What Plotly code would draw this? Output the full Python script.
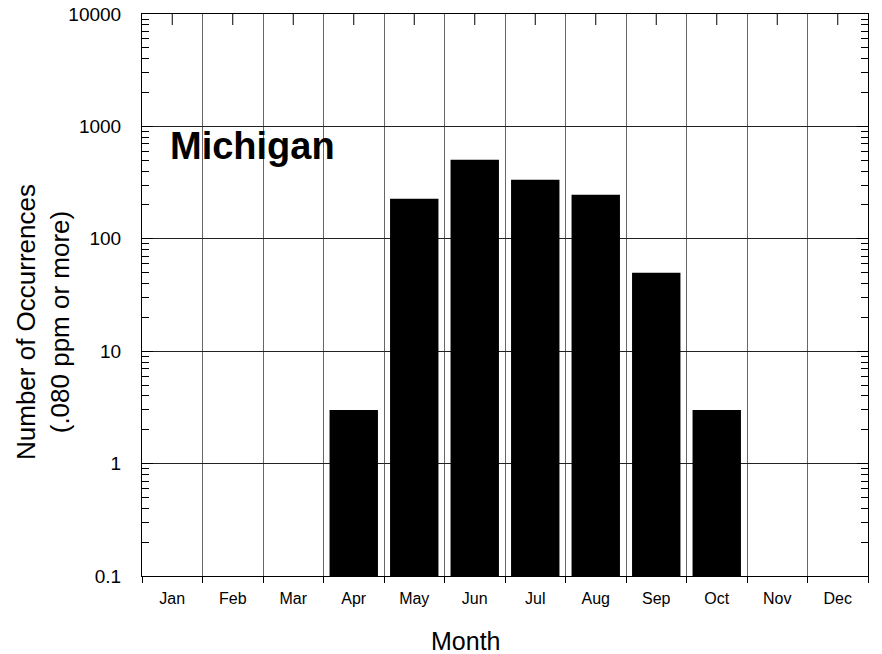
import plotly.graph_objects as go

months = ["Jan", "Feb", "Mar", "Apr", "May", "Jun", "Jul", "Aug", "Sep", "Oct", "Nov", "Dec"]
occurrences = [None, None, None, 3, 227, 505, 335, 246, 50, 3, None, None]
y_tick_vals = [0.1, 1, 10, 100, 1000, 10000]
y_tick_text = ["0.1", "1", "10", "100", "1000", "10000"]
state_label = "Michigan"
x_title = "Month"
y_title = "Number of Occurrences<br>(.080 ppm or more)"

FONT = "Liberation Sans, Arial, sans-serif"

W, H = 882, 654
ML, MR, MT, MB = 142, 14, 14, 78
PW, PH = W - ML - MR, H - MT - MB
TOP_TICK_LEN = 11

fig = go.Figure()
fig.add_trace(go.Bar(
    x=months, y=occurrences,
    marker=dict(color="black", line=dict(width=0)),
    showlegend=False,
))

# inward ticks at month centres along the top frame (placed through the category x scale)
top_ticks = [
    dict(type="line", xref="x", yref="paper",
         x0=m, x1=m, y0=1, y1=1 - TOP_TICK_LEN / PH,
         line=dict(color="black", width=1), layer="above")
    for m in months
]

fig.update_layout(
    width=W, height=H, autosize=False,
    margin=dict(l=ML, r=MR, t=MT, b=MB, autoexpand=False),
    paper_bgcolor="white", plot_bgcolor="white",
    font=dict(family=FONT, color="black"),
    bargap=0.2,
    shapes=top_ticks,
    xaxis=dict(
        type="category", categoryorder="array", categoryarray=months,
        range=[-0.5, len(months) - 0.5],
        tickson="boundaries", ticks="outside", ticklen=6, tickcolor="black",
        showgrid=True, gridcolor="#666666", gridwidth=1,
        showline=True, linecolor="black", linewidth=1, mirror=True,
        tickfont=dict(size=16, family=FONT, color="black"),
        ticklabelstandoff=8, automargin=False,
    ),
    yaxis=dict(
        type="log", range=[-1, 4],
        tickmode="array", tickvals=y_tick_vals, ticktext=y_tick_text,
        ticks="inside", ticklen=11, tickcolor="black",
        minor=dict(ticks="inside", ticklen=7, dtick="D1", tickcolor="black", showgrid=False),
        showgrid=True, gridcolor="#222222", gridwidth=1,
        showline=True, linecolor="black", linewidth=1, mirror="allticks",
        tickfont=dict(size=19, family=FONT, color="black"),
        ticklabelstandoff=16, ticklabeloverflow="allow", automargin=False,
        zeroline=False,
    ),
    annotations=[
        dict(text=state_label, xref="paper", yref="paper",
             x=26 / PW, y=1 - 132 / PH, xanchor="left", yanchor="middle",
             showarrow=False, font=dict(size=38, family=FONT, color="black", weight="bold")),
        dict(text=x_title, xref="paper", yref="paper",
             x=(465 - 142) / PW, y=-65 / PH, xanchor="center", yanchor="middle",
             showarrow=False, font=dict(size=25, family=FONT, color="black")),
        dict(text=y_title, xref="paper", yref="paper", textangle=-90,
             x=-99 / PW, y=(576 - 322) / PH, xanchor="center", yanchor="middle",
             showarrow=False, font=dict(size=26, family=FONT, color="black")),
    ],
)

# remove the browser's default 8px page margin so the figure fills the window exactly
fig.write_html("out.html", config={"displayModeBar": False},
               post_script="document.body.style.margin='0';")
